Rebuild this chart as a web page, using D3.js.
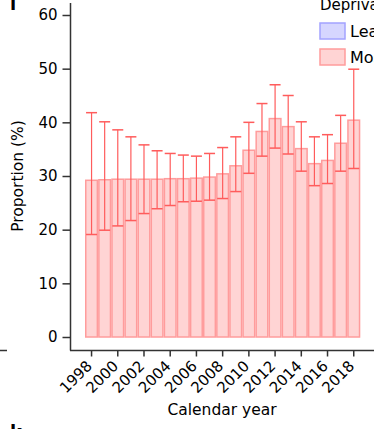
<!DOCTYPE html>
<html lang="en">
<head>
<meta charset="UTF-8">
<title>Proportion by calendar year</title>
<style>
  body { margin: 0; background: #fff; }
  svg { font-family: "DejaVu Sans", Verdana, sans-serif; }
</style>
</head>
<body>
<svg id="chart" width="374" height="429"></svg>
<script src="https://d3js.org/d3.v7.min.js"></script>
<script>
// values
var years = ["1998","1999","2000","2001","2002","2003","2004","2005","2006","2007","2008",
             "2009","2010","2011","2012","2013","2014","2015","2016","2017","2018"];
var mostDeprived = [29.2, 29.3, 29.4, 29.4, 29.4, 29.4, 29.5, 29.5, 29.6, 29.8, 30.4,
                    31.9, 34.8, 38.3, 40.7, 39.2, 35.1, 32.3, 32.9, 36.1, 40.4];
var upperCI = [41.8, 40.1, 38.6, 37.3, 35.8, 34.7, 34.2, 33.9, 33.7, 34.2, 35.3,
               37.3, 40.0, 43.5, 47.0, 45.0, 40.1, 37.3, 37.7, 41.3, 49.9];
var lowerCI = [19.1, 19.9, 20.7, 21.7, 23.0, 23.9, 24.5, 25.2, 25.3, 25.5, 25.8,
               27.1, 30.5, 33.7, 35.2, 34.1, 30.9, 28.2, 28.6, 30.9, 31.4];
var yTicks = [0, 10, 20, 30, 40, 50, 60];
var xTicks = ["1998","2000","2002","2004","2006","2008","2010","2012","2014","2016","2018"];
var legendTitle = "Deprivation";
var legendItems = ["Least deprived", "Most deprived"];

var svg = d3.select("#chart");

var x = d3.scaleBand().domain(years).range([85, 360.3]).padding(0);
var y = d3.scaleLinear().domain([0, 60]).range([337, 15]);

var barFill = "#ffd4d4", barStroke = "#ff9c9c", errColor = "#ff5c5c";
var font = "DejaVu Sans, Verdana, sans-serif";

// bars
svg.append("g").selectAll("rect")
    .data(years)
    .enter().append("rect")
    .attr("x", function(d) { return x(d) + 0.75; })
    .attr("width", x.bandwidth() - 1.5)
    .attr("y", function(d, i) { return y(mostDeprived[i]); })
    .attr("height", function(d, i) { return y(0) - y(mostDeprived[i]); })
    .attr("fill", barFill)
    .attr("stroke", barStroke)
    .attr("stroke-width", 1.5);

// error bars
var err = svg.append("g").selectAll("g")
    .data(years)
    .enter().append("g")
    .attr("transform", function(d) { return "translate(" + (x(d) + x.bandwidth() / 2) + ",0)"; });

err.append("line")
    .attr("y1", function(d, i) { return y(upperCI[i]); })
    .attr("y2", function(d, i) { return y(lowerCI[i]); })
    .attr("stroke", errColor)
    .attr("stroke-width", 1.2);

err.append("line")
    .attr("x1", -5.5).attr("x2", 5.5)
    .attr("y1", function(d, i) { return y(upperCI[i]); })
    .attr("y2", function(d, i) { return y(upperCI[i]); })
    .attr("stroke", errColor)
    .attr("stroke-width", 1.5);

err.append("line")
    .attr("x1", -5.5).attr("x2", 5.5)
    .attr("y1", function(d, i) { return y(lowerCI[i]); })
    .attr("y2", function(d, i) { return y(lowerCI[i]); })
    .attr("stroke", errColor)
    .attr("stroke-width", 1.5);

// y axis
var yAxis = svg.append("g")
    .attr("transform", "translate(70.5,0)")
    .call(d3.axisLeft(y).tickValues(yTicks).tickSize(8).tickSizeOuter(0).tickPadding(5));
yAxis.select(".domain").remove();
yAxis.append("line").attr("y1", 3).attr("y2", 350.5).attr("stroke", "#333").attr("stroke-width", 1.5);
yAxis.selectAll(".tick line").attr("stroke", "#333").attr("stroke-width", 1.5);
yAxis.selectAll(".tick text").attr("font-size", 15).attr("fill", "#000")
    .attr("font-family", font);

// x axis
var xAxis = svg.append("g")
    .attr("transform", "translate(0,350.5)")
    .call(d3.axisBottom(x).tickValues(xTicks).tickSize(6).tickSizeOuter(0));
xAxis.select(".domain").remove();
xAxis.append("line").attr("x1", 70).attr("x2", 374).attr("stroke", "#333").attr("stroke-width", 1.5);
xAxis.selectAll(".tick line").attr("stroke", "#333").attr("stroke-width", 1.5);
xAxis.selectAll(".tick text")
    .attr("font-size", 15).attr("fill", "#000")
    .attr("font-family", font)
    .attr("text-anchor", "end")
    .attr("y", 0)
    .attr("dy", 0)
    .attr("transform", "translate(1.5,16.5) rotate(-45)");

// axis titles
svg.append("text")
    .attr("x", 222).attr("y", 415)
    .attr("text-anchor", "middle")
    .attr("font-size", 15.5)
    .text("Calendar year");

svg.append("text")
    .attr("transform", "translate(22.5,176) rotate(-90)")
    .attr("text-anchor", "middle")
    .attr("font-size", 15.5)
    .text("Proportion (%)");

// legend
var legend = svg.append("g").attr("transform", "translate(320,0)");
legend.append("text").attr("x", 0).attr("y", 9.5).attr("font-size", 15).text(legendTitle);
var legendFill = ["#d6d6ff", barFill], legendStroke = ["#a3a3ff", barStroke];
var li = legend.selectAll(".item")
    .data(legendItems)
    .enter().append("g")
    .attr("class", "item")
    .attr("transform", function(d, i) { return "translate(0," + (23 + i * 26) + ")"; });
li.append("rect")
    .attr("width", 25).attr("height", 16)
    .attr("fill", function(d, i) { return legendFill[i]; })
    .attr("stroke", function(d, i) { return legendStroke[i]; })
    .attr("stroke-width", 1.5);
li.append("text")
    .attr("x", 30).attr("y", 13.5)
    .attr("font-size", 16)
    .text(function(d) { return d; });

// panel letters and neighbouring panel fragments
svg.append("text").attr("x", 10).attr("y", 10).attr("font-size", 18).attr("font-weight", "bold").text("l");
svg.append("text").attr("x", 10).attr("y", 438).attr("font-size", 18).attr("font-weight", "bold").text("k");
svg.append("line").attr("x1", 0).attr("x2", 7).attr("y1", 350.5).attr("y2", 350.5)
    .attr("stroke", "#333").attr("stroke-width", 1.5);
</script>
</body>
</html>
